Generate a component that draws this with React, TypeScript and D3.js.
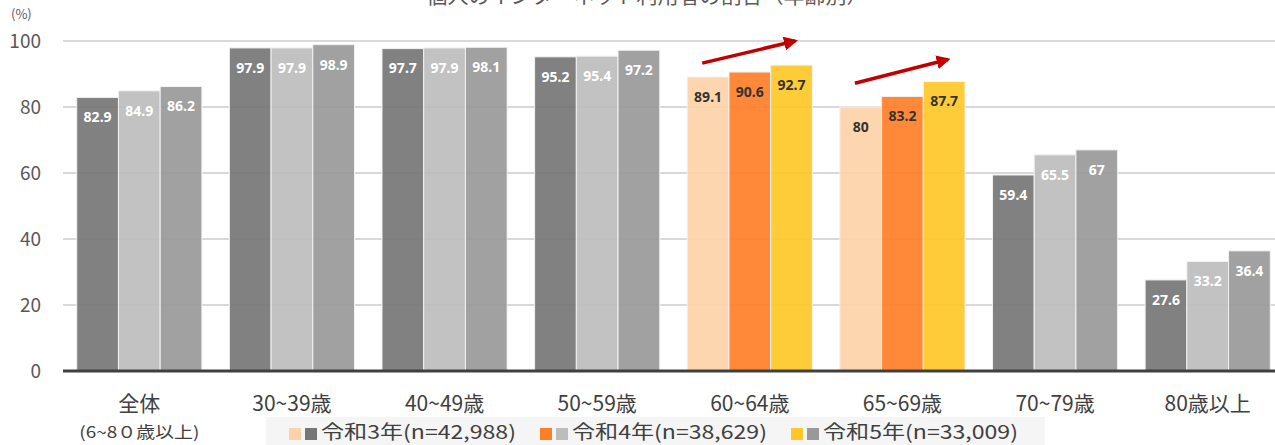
import React from "react";
import * as d3 from "d3";

const categories = ["全体", "30~39歳", "40~49歳", "50~59歳", "60~64歳", "65~69歳", "70~79歳", "80歳以上"];
const subLabels = ["(6~8０歳以上)", "", "", "", "", "", "", ""];
const r3 = [82.9, 97.9, 97.7, 95.2, 89.1, 80, 59.4, 27.6];
const r4 = [84.9, 97.9, 97.9, 95.4, 90.6, 83.2, 65.5, 33.2];
const r5 = [86.2, 98.9, 98.1, 97.2, 92.7, 87.7, 67, 36.4];
const seriesNames = ["令和3年(n=42,988)", "令和4年(n=38,629)", "令和5年(n=33,009)"];
const yTicks = [0, 20, 40, 60, 80, 100];
const highlighted = ["60~64歳", "65~69歳"];
const grayColors = ["#767676", "#bdbdbd", "#999999"];
const warmColors = ["#fdd2a8", "#ff7f27", "#ffc828"];
// trend arrows: category, start value, end value
const arrows = [
  { cat: "60~64歳", from: 93.3, to: 100 },
  { cat: "65~69歳", from: 87.2, to: 94.4 },
];
const title = "個人のインターネット利用者の割合（年齢別）";

export default function App() {
  const W = 1275, H = 445;
  const left = 63, right = 1284, top = 41, bottom = 371;
  const x = d3.scaleBand<string>().domain(categories).range([left, right]).paddingInner(0.18).paddingOuter(0.09);
  const y = d3.scaleLinear().domain([0, 100]).range([bottom, top]);
  const series = [r3, r4, r5];
  const inner = d3.scaleBand<number>().domain([0, 1, 2]).range([0, x.bandwidth()]);
  const font = "'Noto Sans CJK JP', 'Noto Sans', sans-serif";

  return (
    <svg width={W} height={H} style={{ position: "absolute", left: 0, top: 0, background: "#fff" }} fontFamily={font}>
      <text x={647} y={3} textAnchor="middle" fontSize={21} fill="#595959">{title}</text>
      <text x={11} y={19} fontSize={13} fill="#595959">(%)</text>
      {yTicks.map((t) => (
        <g key={t}>
          {t > 0 && <line x1={left} x2={W} y1={y(t)} y2={y(t)} stroke="#d9d9d9" strokeWidth={2} />}
          <text x={41} y={y(t)} dy="0.35em" textAnchor="end" fontSize={19} fill="#595959">{t}</text>
        </g>
      ))}
      {categories.map((c, i) => {
        const warm = highlighted.includes(c);
        const colors = warm ? warmColors : grayColors;
        return (
          <g key={c}>
            {series.map((s, k) => {
              const bx = (x(c) as number) + (inner(k) as number);
              const bw = inner.bandwidth();
              return (
                <g key={k}>
                  <rect x={bx} y={y(s[i])} width={bw} height={bottom - y(s[i])} fill={colors[k]} fillOpacity={0.92} stroke="#f2f2f2" strokeWidth={1} />
                  <text x={bx + bw / 2} y={y(s[i]) + 20} dy="0.35em" textAnchor="middle" fontSize={14} fontWeight="bold" fill={warm ? "#333333" : "#ffffff"} fontFamily="'Noto Sans', sans-serif">{s[i]}</text>
                </g>
              );
            })}
            <text x={(x(c) as number) + x.bandwidth() / 2} y={404} dy="0.35em" textAnchor="middle" fontSize={21} fill="#404040">{c}</text>
            {subLabels[i] && (
              <text x={(x(c) as number) + x.bandwidth() / 2} y={432} dy="0.35em" textAnchor="middle" fontSize={16} fill="#404040" textLength={120} lengthAdjust="spacingAndGlyphs">{subLabels[i]}</text>
            )}
          </g>
        );
      })}
      <line x1={left} x2={W} y1={bottom} y2={bottom} stroke="#404040" strokeWidth={3} />
      <defs>
        <marker id="ah" viewBox="0 0 10 10" refX="8" refY="5" markerWidth="4" markerHeight="4" orient="auto">
          <path d="M0,0 L10,5 L0,10 z" fill="#c00000" />
        </marker>
      </defs>
      {arrows.map((a) => {
        const x0 = (x(a.cat) as number) + 15;
        const x1 = (x(a.cat) as number) + 108;
        return <line key={a.cat} x1={x0} y1={y(a.from)} x2={x1} y2={y(a.to)} stroke="#c00000" strokeWidth={3.5} markerEnd="url(#ah)" />;
      })}
      <rect x={266} y={417} width={779} height={28} fill="#f5f5f5" />
      {seriesNames.map((n, k) => {
        const lx = 289 + k * 251;
        return (
          <g key={n}>
            <rect x={lx} y={428} width={12} height={12} fill={warmColors[k]} />
            <rect x={lx + 16} y={428} width={12} height={12} fill={grayColors[k]} />
            <text x={lx + 32} y={432} dy="0.35em" fontSize={19} fill="#404040" textLength={195} lengthAdjust="spacingAndGlyphs">{n}</text>
          </g>
        );
      })}
    </svg>
  );
}
